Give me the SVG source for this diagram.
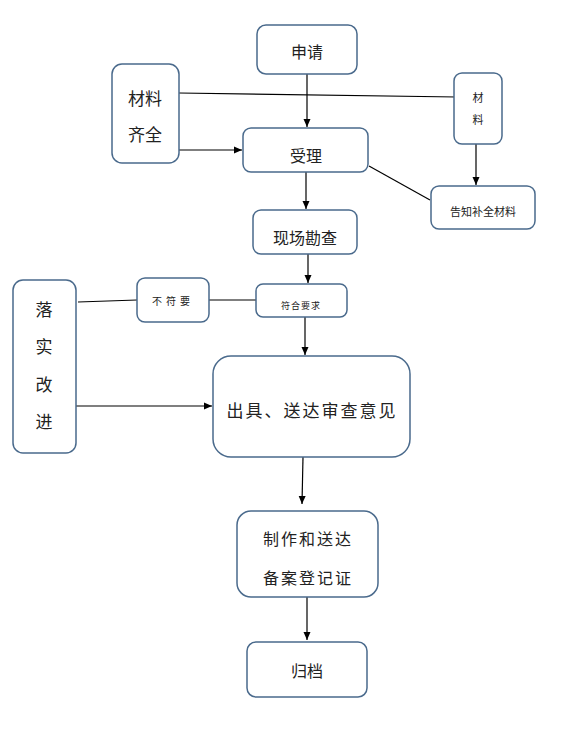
<svg xmlns="http://www.w3.org/2000/svg" width="574" height="732" viewBox="0 0 574 732">
<defs>
<marker id="ah" markerWidth="10" markerHeight="10" refX="9" refY="5" orient="auto" markerUnits="userSpaceOnUse">
<path d="M1,1.5 L9,5 L1,8.5 Z" fill="#000"/>
</marker>
<style>
.box{fill:#fff;stroke:#4a6a8c;stroke-width:1.5}
.t{font-family:"Noto Sans CJK SC","Noto Sans",sans-serif;fill:#222;text-anchor:middle;dominant-baseline:central}
.c{stroke:#000;stroke-width:1.2;fill:none}
.a{marker-end:url(#ah)}
</style>
</defs>
<rect width="574" height="732" fill="#fff"/>
<g id="connectors">
<path class="c" d="M179,93 L457,97"/>
<path class="c a" d="M307,74 L307,127"/>
<path class="c a" d="M179,150 L242,150"/>
<path class="c a" d="M306,172 L306,209"/>
<path class="c" d="M369,166 L430,200"/>
<path class="c a" d="M476,144 L476,185"/>
<path class="c a" d="M308,254 L308,283"/>
<path class="c" d="M78,302 L137,300"/>
<path class="c" d="M209,300 L256,300"/>
<path class="c a" d="M305,317 L305,355"/>
<path class="c a" d="M73,406 L212,406"/>
<path class="c a" d="M303,457 L302,504"/>
<path class="c a" d="M307,597 L307,640"/>
</g>
<g id="n-shenqing"><rect class="box" x="257" y="25" width="100" height="49" rx="9"/><text class="t" x="307" y="51" font-size="16">申请</text></g>
<g id="n-cailiaoqiquan"><rect class="box" x="112" y="64" width="67" height="99" rx="10"/><text class="t" x="145" y="97" font-size="17">材料</text><text class="t" x="145" y="133" font-size="17">齐全</text></g>
<g id="n-shouli"><rect class="box" x="243" y="128" width="125" height="44" rx="8"/><text class="t" x="306" y="155" font-size="16">受理</text></g>
<g id="n-cailiao"><rect class="box" x="454" y="73" width="48" height="71" rx="8"/><text class="t" x="478" y="97" font-size="11">材</text><text class="t" x="478" y="119" font-size="11">料</text></g>
<g id="n-gaozhi"><rect class="box" x="431" y="186" width="104" height="43" rx="8"/><text class="t" x="483" y="211" font-size="11">告知补全材料</text></g>
<g id="n-xianchang"><rect class="box" x="253" y="210" width="104" height="44" rx="8"/><text class="t" x="305" y="237" font-size="16">现场勘查</text></g>
<g id="n-luoshi"><rect class="box" x="13" y="280" width="63" height="173" rx="10"/><text class="t" x="44" y="308" font-size="17">落</text><text class="t" x="44" y="345" font-size="17">实</text><text class="t" x="44" y="383" font-size="17">改</text><text class="t" x="44" y="420" font-size="17">进</text></g>
<g id="n-bufuyao"><rect class="box" x="137" y="278" width="72" height="44" rx="8"/><text class="t" x="173" y="300" font-size="10" letter-spacing="4">不符要</text></g>
<g id="n-fuhe"><rect class="box" x="256" y="284" width="91" height="33" rx="7"/><text class="t" x="301" y="305" font-size="9" letter-spacing="1">符合要求</text></g>
<g id="n-chuju"><rect class="box" x="213" y="356" width="197" height="101" rx="18"/><text class="t" x="312" y="409" font-size="17" letter-spacing="2">出具、送达审查意见</text></g>
<g id="n-zhizuo"><rect class="box" x="237" y="511" width="141" height="86" rx="14"/><text class="t" x="308" y="538" font-size="16" letter-spacing="2">制作和送达</text><text class="t" x="308" y="577" font-size="16" letter-spacing="2">备案登记证</text></g>
<g id="n-guidang"><rect class="box" x="247" y="642" width="120" height="55" rx="9"/><text class="t" x="307" y="670" font-size="16">归档</text></g>
</svg>
